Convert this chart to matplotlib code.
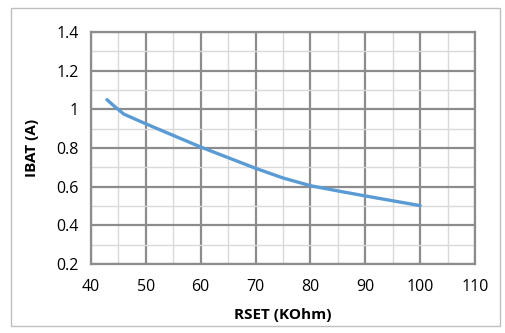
import matplotlib
matplotlib.use("Agg")
import matplotlib.pyplot as plt
from matplotlib.patches import Rectangle

# RSET (KOhm) vs charge current IBAT (A)
rset = [42.9, 44.5, 46.0, 50, 55, 60, 65, 70, 75, 80, 85, 90, 95, 100]
ibat = [1.05, 1.01, 0.975, 0.925, 0.865, 0.805, 0.75, 0.695, 0.645, 0.605, 0.578, 0.552, 0.527, 0.502]

x_ticks = [40, 50, 60, 70, 80, 90, 100, 110]
y_ticks = [0.2, 0.4, 0.6, 0.8, 1.0, 1.2, 1.4]
y_labels = ["0.2", "0.4", "0.6", "0.8", "1", "1.2", "1.4"]

plt.rcParams["font.family"] = ["Open Sans", "DejaVu Sans"]

fig = plt.figure(figsize=(5.06, 3.33), dpi=100)
ax = fig.add_axes([91 / 506, 1 - 264 / 333, (475 - 91) / 506, (264 - 32) / 333])

# outer chart frame
fig.patches.append(Rectangle((11 / 506, 1 - 326 / 333), 489 / 506, 318 / 333,
                             transform=fig.transFigure, fill=False,
                             edgecolor="#bfbfbf", linewidth=1.0))

ax.set_xlim(40, 110)
ax.set_ylim(0.2, 1.4)
ax.set_xticks(x_ticks)
ax.set_yticks(y_ticks)
ax.set_yticklabels(y_labels)
ax.set_xticks(range(45, 110, 10), minor=True)
ax.set_yticks([0.3, 0.5, 0.7, 0.9, 1.1, 1.3], minor=True)

ax.grid(which="major", color="#8c8c8c", linewidth=1.6)
ax.grid(which="minor", color="#d9d9d9", linewidth=1.0)
ax.set_axisbelow(True)
for s in ax.spines.values():
    s.set_color("#8c8c8c")
    s.set_linewidth(1.6)

ax.tick_params(which="both", length=0, labelsize=11.5, colors="#000000")
ax.tick_params(axis="x", pad=11)
ax.tick_params(axis="y", pad=9)

ax.plot(rset, ibat, color="#5b9bd5", linewidth=2.4, solid_capstyle="round")

ax.set_xlabel("RSET (KOhm)", fontsize=11, fontweight="bold", labelpad=9)
ax.set_ylabel("IBAT (A)", fontsize=11, fontweight="bold", labelpad=12)

fig.savefig("out.png", dpi=100)
